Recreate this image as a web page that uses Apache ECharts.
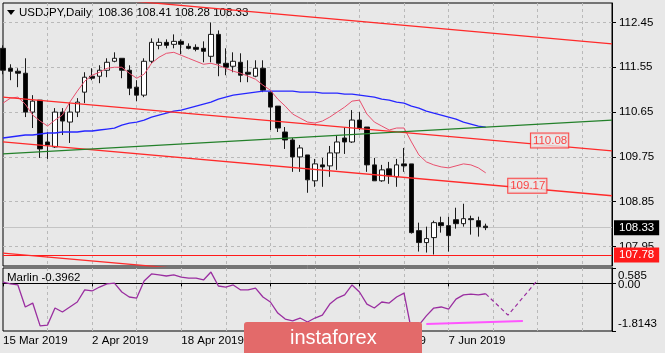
<!DOCTYPE html>
<html>
<head>
<meta charset="utf-8">
<script src="https://cdn.jsdelivr.net/npm/echarts@6/dist/echarts.min.js"></script>
<style>
html, body { margin: 0; padding: 0; background: #e8e8e8; }
#chart { width: 665px; height: 353px; }
</style>
</head>
<body>
<div id="chart"></div>
<script>
// USDJPY daily
const symbolName = 'USDJPY,Daily';
const firstDay = '2019-03-15';
const slots = 83; // bars + empty room on the right

const opens = [111.93,111.53,111.47,111.43,110.65,110.89,110.05,109.95,110.65,110.45,
  110.65,111.05,111.37,111.37,111.49,111.67,111.73,111.49,111.15,110.99,
  111.67,111.99,112.05,112.01,112.07,111.97,111.95,111.93,111.77,112.21,
  111.63,111.57,111.65,111.45,111.37,111.53,111.05,110.77,110.25,110.09,
  109.75,109.79,109.27,109.59,109.57,109.83,110.13,110.05,110.49,110.35,
  109.59,109.27,109.51,109.35,109.61,109.61,108.27,108.03,108.13,108.43,
  108.37,108.49,108.41,108.51,108.47,108.36];
const highs = [111.99,111.61,111.53,111.73,110.99,110.89,110.25,110.73,110.73,110.85,
  110.93,111.45,111.53,111.59,111.73,111.85,111.73,111.59,111.29,111.73,
  112.13,112.13,112.11,112.21,112.11,112.03,112.01,112.07,112.45,112.29,
  111.93,111.85,111.83,111.69,111.69,111.69,111.07,110.77,110.35,110.13,
  109.99,109.79,109.71,109.73,109.97,110.19,110.35,110.69,110.65,110.35,
  109.73,109.59,109.65,109.71,109.93,109.61,108.43,108.35,108.47,108.55,
  108.55,108.73,108.81,108.57,108.55,108.41];
const lows = [111.41,111.29,111.15,110.55,110.33,109.73,109.71,109.93,110.19,110.03,
  110.55,110.83,111.29,111.23,111.35,111.65,111.33,110.99,110.87,110.95,
  111.63,111.91,111.93,111.93,111.81,111.91,111.87,111.65,111.65,111.37,
  111.39,111.45,111.25,111.25,111.35,111.05,110.29,110.25,109.91,109.45,
  109.45,109.03,109.15,109.15,109.35,109.49,109.81,110.03,110.29,109.45,
  109.27,109.25,109.21,109.15,109.45,108.21,107.85,107.83,107.79,108.23,
  107.85,108.31,108.35,108.19,108.15,108.28];
const closes = [111.49,111.47,111.43,110.65,110.87,109.91,109.99,110.65,110.47,110.65,
  110.85,111.35,111.33,111.49,111.65,111.73,111.49,111.13,110.99,111.67,
  112.05,112.05,111.99,112.07,112.01,111.93,111.91,111.87,112.21,111.63,
  111.55,111.67,111.39,111.41,111.53,111.09,110.75,110.33,110.09,109.75,
  109.93,109.29,109.61,109.55,109.83,110.05,110.05,110.49,110.33,109.59,
  109.27,109.49,109.37,109.59,109.57,108.23,108.03,108.11,108.43,108.37,
  108.17,108.41,108.51,108.49,108.35,108.33];

// moving averages (pink fast, blue slow)
const fastMA = [110.83,110.93,110.95,110.81,110.59,110.47,110.37,110.49,110.59,110.85,
  111.07,111.27,111.39,111.45,111.53,111.55,111.55,111.43,111.33,111.41,
  111.63,111.75,111.83,111.85,111.79,111.73,111.67,111.61,111.63,111.59,
  111.53,111.47,111.43,111.37,111.31,111.19,111.09,110.91,110.77,110.61,
  110.53,110.45,110.43,110.47,110.55,110.65,110.75,110.87,110.89,110.61,
  110.45,110.37,110.29,110.33,110.33,110.05,109.79,109.65,109.59,109.55,
  109.53,109.57,109.61,109.59,109.53,109.43];
const slowMA = [110.13,110.15,110.17,110.19,110.19,110.21,110.23,110.23,110.25,110.25,
  110.25,110.27,110.27,110.29,110.31,110.33,110.39,110.43,110.45,110.49,
  110.55,110.59,110.63,110.67,110.69,110.73,110.77,110.81,110.85,110.91,
  110.95,110.99,111.01,111.03,111.05,111.07,111.07,111.07,111.07,111.07,
  111.05,111.05,111.05,111.03,111.03,111.03,111.01,111.01,110.99,110.97,
  110.95,110.91,110.89,110.85,110.83,110.77,110.73,110.67,110.63,110.59,
  110.55,110.51,110.45,110.41,110.37,110.35];

// drawn trend lines: [bar, price] at both ends
const channelTop = [[0, 113.11], [82, 112.02]];
const channelMid = [[0, 110.95], [82, 109.87]];
const channelLow = [[0, 110.05], [82, 108.97]];
const channelBottom = [[0, 107.82], [82, 106.74]];
const greenLine = [[0, 109.81], [82, 110.49]];
const priceTags = [[74, 110.08], [71, 109.17]];
const supportLevel = 107.78;
const bidPrice = 108.33;

const priceTicks = [107.95, 108.85, 109.75, 110.65, 111.55, 112.45];

// Marlin oscillator
const marlinValue = -0.3962;
const marlin = [0.05,-0.02,-0.06,-0.90,-0.75,-1.62,-1.59,-0.94,-1.09,-0.90,
  -0.71,-0.25,-0.29,-0.14,-0.02,0.01,-0.33,-0.52,-0.56,0.09,
  0.36,0.32,0.28,0.32,0.24,0.20,0.20,0.13,0.43,-0.10,
  -0.14,-0.06,-0.25,-0.25,-0.18,-0.52,-0.71,-1.13,-1.36,-1.43,
  -1.32,-1.47,-1.32,-1.21,-0.79,-0.56,-0.44,-0.06,-0.33,-0.79,
  -0.94,-0.71,-0.75,-0.52,-0.37,-1.80,-1.59,-1.24,-0.94,-0.90,
  -0.98,-0.60,-0.44,-0.41,-0.44,-0.3962];
const marlinForecast = [[65, -0.40], [68, -1.21], [72, 0.13]];
const marlinFloor = [[57, -1.55], [70, -1.43]];
const marlinMax = 0.585;
const marlinMin = -1.8143;
const marlinLevel = 0;

const months = ['Jan','Feb','Mar','Apr','May','Jun','Jul','Aug','Sep','Oct','Nov','Dec'];
function tradingDays(start, n) {
  const out = [];
  const d = new Date(start + 'T00:00:00Z');
  while (out.length < n) {
    const wd = d.getUTCDay();
    if (wd !== 0 && wd !== 6) {
      out.push(d.getUTCDate() + ' ' + months[d.getUTCMonth()] + ' ' + d.getUTCFullYear());
    }
    d.setUTCDate(d.getUTCDate() + 1);
  }
  return out;
}
const dates = tradingDays(firstDay, slots);
const nBars = opens.length;
const last = nBars - 1;

const FONT = 'Liberation Sans';
const gridDash = { color: '#b9b9b9', type: [3, 3], width: 1 };
const every6 = (i) => i > 0 && i % 6 === 0;

const chart = echarts.init(document.getElementById('chart'), null, { renderer: 'canvas' });

const header = symbolName + '  ' + [opens[last], highs[last], lows[last], closes[last]]
  .map(v => v.toFixed(2)).join(' ');

// two value axes share the indicator pane so the close labels do not hide each other
function indicatorAxis(values) {
  return {
    type: 'value', gridIndex: 1, position: 'right', min: marlinMin, max: marlinMax,
    axisLine: { show: true, lineStyle: { color: '#000' } },
    axisTick: { show: true, length: 4, customValues: values, lineStyle: { color: '#000' } },
    axisLabel: {
      customValues: values, showMinLabel: true, showMaxLabel: true,
      color: '#000', fontSize: 11.5, fontFamily: FONT, margin: 6,
      formatter: (v) => {
        if (v >= marlinMax - 1e-6) return '{t|' + marlinMax.toFixed(3) + '}';
        if (v <= marlinMin + 1e-6) return '{b|' + marlinMin.toFixed(4) + '}';
        return '{m|' + v.toFixed(2) + '}';
      },
      rich: {
        t: { fontSize: 11.5, fontFamily: FONT, color: '#000', padding: [16, 0, 0, 0] },
        m: { fontSize: 11.5, fontFamily: FONT, color: '#000', padding: [3, 0, 0, 0] },
        b: { fontSize: 11.5, fontFamily: FONT, color: '#000', padding: [0, 0, 15, 0] }
      }
    },
    splitLine: { show: false }
  };
}

chart.setOption({
  animation: false,
  backgroundColor: '#e8e8e8',
  textStyle: { fontFamily: FONT },
  grid: [
    { left: 3, right: 53, top: 3, height: 263, show: true, borderColor: '#000', borderWidth: 1, backgroundColor: 'transparent' },
    { left: 3, right: 53, top: 268, height: 63, show: true, borderColor: '#000', borderWidth: 1, backgroundColor: 'transparent' }
  ],
  xAxis: [
    {
      type: 'category', gridIndex: 0, data: dates, boundaryGap: false,
      axisLine: { show: false }, axisTick: { show: false }, axisLabel: { show: false },
      splitLine: { show: true, interval: every6, lineStyle: gridDash }
    },
    {
      type: 'category', gridIndex: 1, data: dates, boundaryGap: false,
      axisLine: { show: true, lineStyle: { color: '#000' } },
      axisTick: { show: true, length: 3, interval: (i) => i % 12 === 0 && i < nBars, lineStyle: { color: '#000' } },
      axisLabel: {
        show: true, interval: (i) => i % 12 === 0 && i < nBars, align: 'left',
        color: '#000', fontSize: 11.5, fontFamily: FONT, margin: 4
      },
      splitLine: { show: true, interval: every6, lineStyle: gridDash }
    }
  ],
  yAxis: [
    {
      type: 'value', gridIndex: 0, position: 'right', min: 107.56, max: 112.84,
      axisLine: { show: true, lineStyle: { color: '#000' } },
      axisTick: { show: true, length: 4, customValues: priceTicks, lineStyle: { color: '#000' } },
      axisLabel: {
        customValues: priceTicks, color: '#000', fontSize: 11.5, fontFamily: FONT, margin: 7,
        formatter: (v) => v.toFixed(2)
      },
      splitLine: { show: true, lineStyle: gridDash }
    },
    indicatorAxis([marlinMax, marlinMin]),
    indicatorAxis([marlinLevel])
  ],
  series: [
    {
      type: 'candlestick', xAxisIndex: 0, yAxisIndex: 0, z: 2, barWidth: 5,
      data: opens.map((o, i) => [o, closes[i], lows[i], highs[i]]),
      itemStyle: { color: '#ffffff', color0: '#000000', borderColor: '#1a1a1a', borderColor0: '#1a1a1a', borderWidth: 1 },
      markLine: {
        silent: true, symbol: 'none', z: 1,
        data: [
          {
            yAxis: bidPrice, lineStyle: { color: '#c4c4c4', type: 'solid', width: 1 },
            label: { show: true, position: 'end', distance: 2, formatter: bidPrice.toFixed(2), color: '#fff',
              backgroundColor: '#000', padding: [2, 5, 1, 5], fontSize: 11.5, fontFamily: FONT }
          },
          {
            yAxis: supportLevel, lineStyle: { color: '#ff1a1a', type: 'solid', width: 1 },
            label: { show: true, position: 'end', distance: 2, formatter: supportLevel.toFixed(2), color: '#fff',
              backgroundColor: '#ff1a1a', padding: [2, 5, 1, 5], fontSize: 11.5, fontFamily: FONT }
          }
        ]
      }
    },
    { type: 'line', xAxisIndex: 0, yAxisIndex: 0, z: 3, data: slowMA, symbol: 'none', lineStyle: { color: '#2626ff', width: 1.3 } },
    { type: 'line', xAxisIndex: 0, yAxisIndex: 0, z: 3, data: fastMA, symbol: 'none', lineStyle: { color: '#e8506e', width: 1 } },
    { type: 'line', xAxisIndex: 0, yAxisIndex: 0, z: 4, data: channelTop, symbol: 'none', lineStyle: { color: '#ff2a2a', width: 1.3 } },
    { type: 'line', xAxisIndex: 0, yAxisIndex: 0, z: 4, data: channelMid, symbol: 'none', lineStyle: { color: '#ff2a2a', width: 1.3 } },
    { type: 'line', xAxisIndex: 0, yAxisIndex: 0, z: 4, data: channelLow, symbol: 'none', lineStyle: { color: '#ff2a2a', width: 1.3 } },
    { type: 'line', xAxisIndex: 0, yAxisIndex: 0, z: 4, data: channelBottom, symbol: 'none', lineStyle: { color: '#ff2a2a', width: 1.3 } },
    { type: 'line', xAxisIndex: 0, yAxisIndex: 0, z: 4, data: greenLine, symbol: 'none', lineStyle: { color: '#23802a', width: 1.2 } },
    {
      type: 'scatter', xAxisIndex: 0, yAxisIndex: 0, z: 5, symbolSize: 0, data: priceTags,
      label: {
        show: true, position: 'inside', offset: [-3, 0], formatter: (p) => p.value[1].toFixed(2),
        color: '#ff1a1a', fontSize: 11.5, fontFamily: FONT, borderColor: '#ff1a1a', borderWidth: 1,
        backgroundColor: '#e8e8e8', padding: [2, 1, 0, 2]
      }
    },
    { type: 'line', xAxisIndex: 1, yAxisIndex: 1, z: 3, data: marlin, symbol: 'none', lineStyle: { color: '#9a2ea0', width: 1.3 } },
    { type: 'line', xAxisIndex: 1, yAxisIndex: 1, z: 3, data: marlinForecast, symbol: 'none', lineStyle: { color: '#9a2ea0', width: 1.2, type: [4, 3] } },
    { type: 'line', xAxisIndex: 1, yAxisIndex: 1, z: 3, data: marlinFloor, symbol: 'none', lineStyle: { color: '#ff55ff', width: 2 } }
  ],
  graphic: [
    { type: 'polygon', shape: { points: [[7, 10], [15, 10], [11, 15]] }, style: { fill: '#000' } },
    { type: 'text', x: 19, y: 13, style: { text: header, fill: '#000', font: '11.5px "Liberation Sans"', verticalAlign: 'middle' } },
    { type: 'text', x: 7, y: 278, z: 10, style: { text: 'Marlin ' + marlinValue.toFixed(4), fill: '#000', font: '11.5px "Liberation Sans"', verticalAlign: 'middle' } },
    { type: 'rect', z: 100, zlevel: 1, shape: { x: 244, y: 322, width: 178, height: 40, r: 3 }, style: { fill: '#e36a6a' } },
    { type: 'text', z: 101, zlevel: 1, x: 290, y: 338, style: { text: 'instaforex', fill: '#ffffff', font: '20px "Liberation Sans"', verticalAlign: 'middle' } }
  ]
});
</script>
</body>
</html>
